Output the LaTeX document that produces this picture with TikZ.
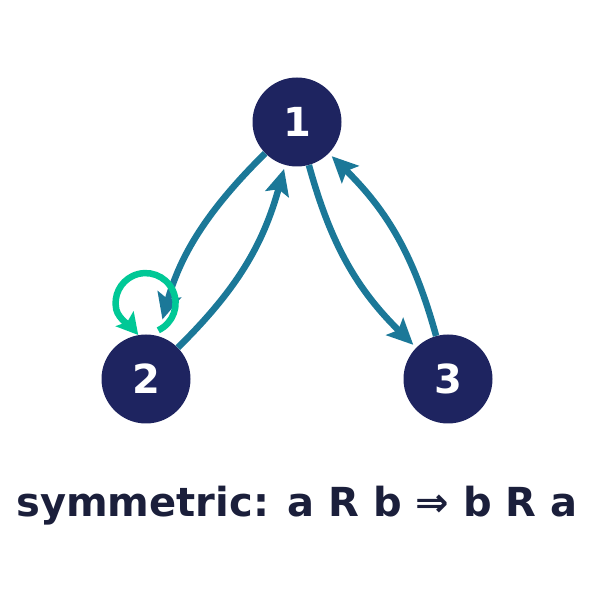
\documentclass[tikz,border=0pt]{standalone}
\usepackage{fontspec}
\setmainfont{DejaVu Sans}
\usetikzlibrary{arrows.meta}
\definecolor{navy}{HTML}{1E2460}
\definecolor{relblue}{HTML}{1B7898}
\definecolor{loopgreen}{HTML}{00C896}
\definecolor{ink}{HTML}{1B1F3B}
\tikzset{vertex/.style={circle, fill=navy, text=white, minimum size=89pt, inner sep=0pt,
  font=\fontsize{40}{40}\selectfont\bfseries}}
\tikzset{rel/.style={relblue, line width=6.5pt, -{Stealth[length=26pt,width=24pt,inset=5pt]}}}

\begin{document}
\begin{tikzpicture}[x=1pt, y=1pt]
\useasboundingbox (0,0) rectangle (595,594);
\foreach \n/\x/\y in {1/297/472, 2/146/215, 3/448/215}
  \node[vertex] (n\n) at (\x,\y) {\n};
\draw[rel, shorten >=17pt] (n1) to[bend right=15] (n2);
\draw[rel, shorten >=4pt] (n2) to[bend right=15] (n1);
\draw[rel, shorten >=4pt] (n1) to[bend right=15] (n3);
\draw[rel, shorten >=4pt] (n3) to[bend right=15] (n1);
% reflexive loop on 2
\coordinate (l2) at (146,290);
\draw[loopgreen, line width=6.5pt, -{Stealth[length=21pt,width=23pt,inset=4pt]}]
  ([shift={(-65:29)}]l2) arc[start angle=-65, end angle=192, radius=30]
  .. controls +(282:10) and +(130:8) .. (n2.100);
\node[text=ink, font=\fontsize{40}{40}\selectfont\bfseries] (rule) at (297,88)
  {symmetric: a R b ⇒ b R a};
\end{tikzpicture}
\end{document}
